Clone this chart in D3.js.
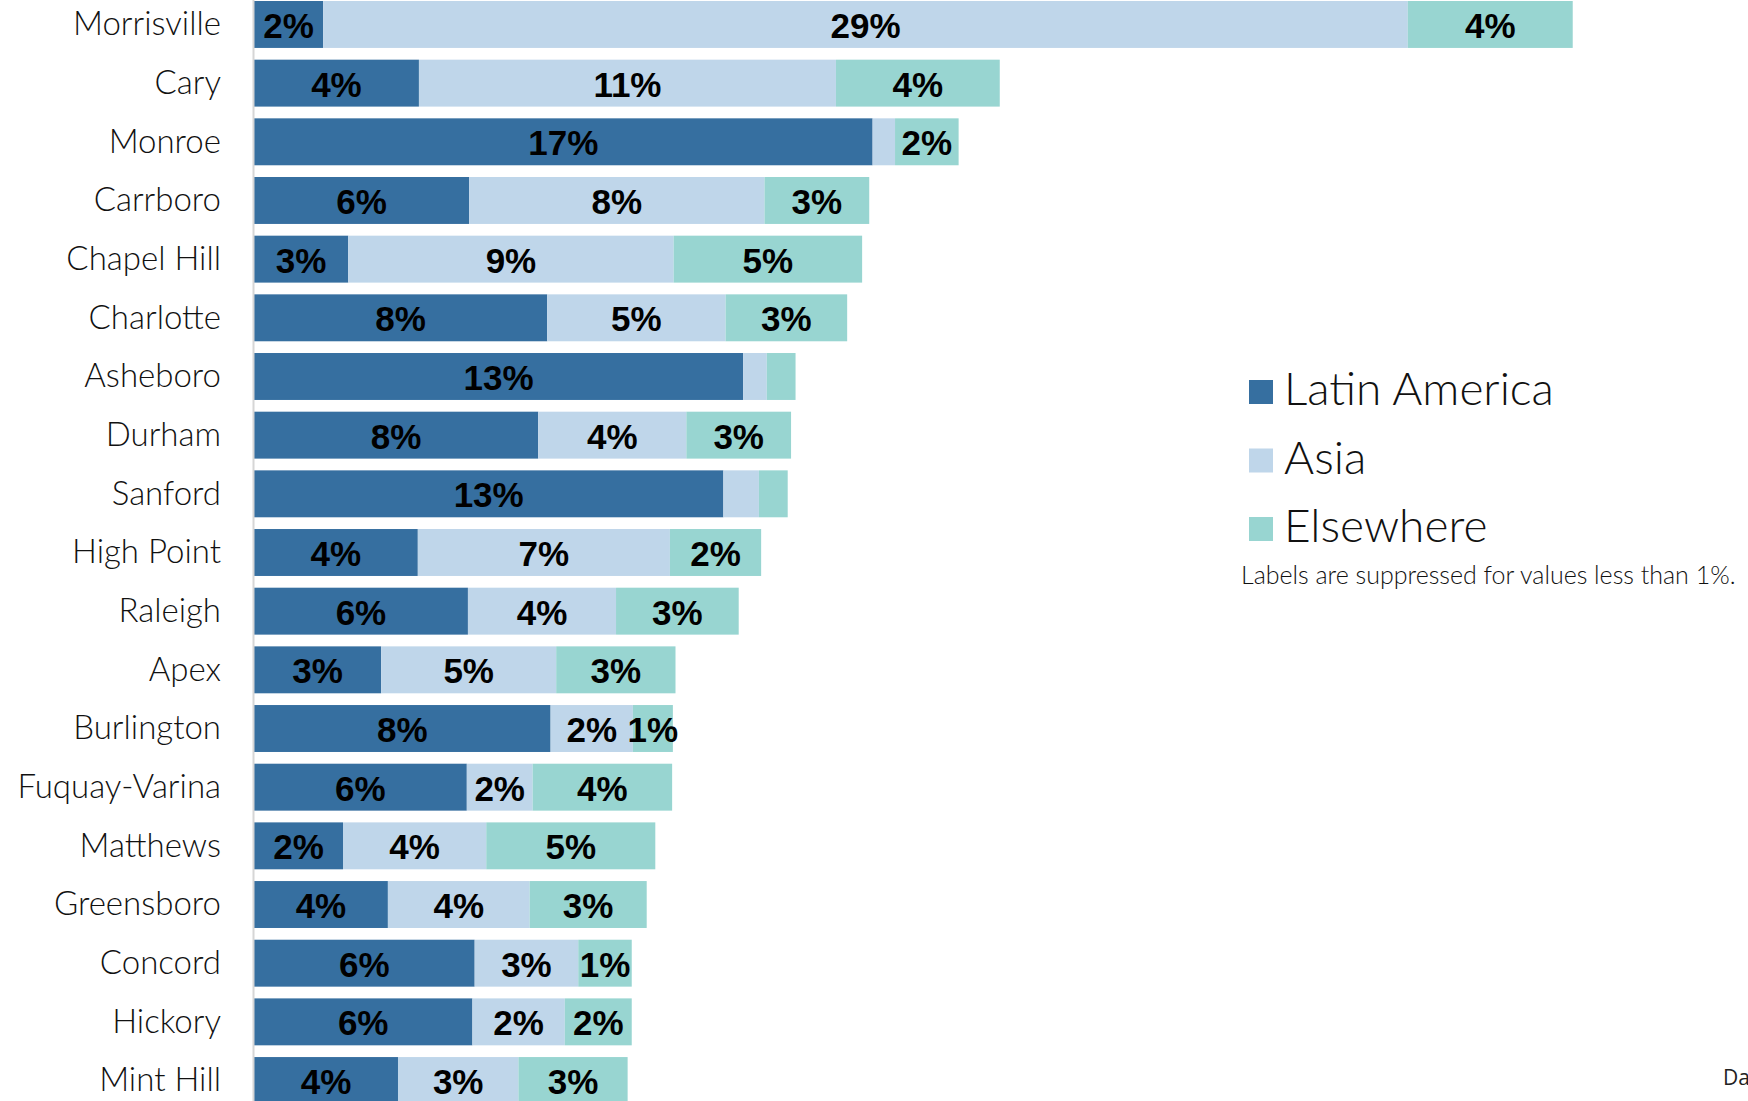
<!DOCTYPE html>
<html>
<head>
<meta charset="utf-8">
<script src="https://cdn.jsdelivr.net/npm/d3@7"></script>
<style>
  body { margin: 0; background: #fff; overflow: hidden; }
  svg { display: block; }
</style>
</head>
<body>
<div id="chart-area"></div>
<script>
// share of residents born abroad, by region (percent)
const cities = ["Morrisville", "Cary", "Monroe", "Carrboro", "Chapel Hill", "Charlotte",
    "Asheboro", "Durham", "Sanford", "High Point", "Raleigh", "Apex", "Burlington",
    "Fuquay-Varina", "Matthews", "Greensboro", "Concord", "Hickory", "Mint Hill"];
const latinAmerica = [1.85, 4.41, 16.54, 5.75, 2.52, 7.84, 13.08, 7.6, 12.55, 4.38,
    5.72, 3.4, 7.93, 5.69, 2.38, 3.58, 5.9, 5.84, 3.85];
const asia = [29.0, 11.15, 0.6, 7.9, 8.7, 4.77, 0.63, 3.96, 0.95, 6.74,
    3.96, 4.68, 2.2, 1.76, 3.83, 3.79, 2.77, 2.47, 3.22];
const elsewhere = [4.41, 4.38, 1.7, 2.8, 5.04, 3.25, 0.77, 2.8, 0.77, 2.44,
    3.28, 3.19, 1.07, 3.73, 4.52, 3.13, 1.43, 1.79, 2.92];
const seriesNames = ["Latin America", "Asia", "Elsewhere"];
const seriesColors = ["#366fa0", "#bfd6ea", "#98d5d1"];

const width = 1748;
const height = 1101;

const data = cities.map((c, i) => ({
    city: c,
    "Latin America": latinAmerica[i],
    "Asia": asia[i],
    "Elsewhere": elsewhere[i]
}));

const svg = d3.select("#chart-area")
    .append("svg")
    .attr("width", width)
    .attr("height", height);

const step = 58.67;
const y = d3.scaleBand()
    .domain(cities)
    .range([-4.87, -4.87 + cities.length * step])
    .paddingInner(0.2)
    .paddingOuter(0.1);

const x = d3.scaleLinear()
    .domain([0, 40])
    .range([254, 254 + 40 * 37.4]);

const color = d3.scaleOrdinal()
    .domain(seriesNames)
    .range(seriesColors);

const stacked = d3.stack().keys(seriesNames)(data);

const layers = svg.selectAll("g.layer")
    .data(stacked)
    .enter()
    .append("g")
        .attr("class", "layer")
        .attr("fill", d => color(d.key));

layers.selectAll("rect")
    .data(d => d)
    .enter()
    .append("rect")
        .attr("x", d => x(d[0]))
        .attr("y", d => y(d.data.city))
        .attr("width", d => x(d[1]) - x(d[0]))
        .attr("height", y.bandwidth());

// value labels, hidden under 1%
layers.selectAll("text")
    .data(d => d.map(s => ({s: s, v: s[1] - s[0]})))
    .enter()
    .filter(d => d.v >= 1)
    .append("text")
        .attr("x", d => (x(d.s[0]) + x(d.s[1])) / 2)
        .attr("y", d => y(d.s.data.city) + y.bandwidth() / 2 + 1)
        .attr("dominant-baseline", "central")
        .attr("text-anchor", "middle")
        .attr("font-family", "'Liberation Sans', Arial, sans-serif")
        .attr("font-weight", "bold")
        .attr("font-size", "35px")
        .attr("fill", "#000")
        .text(d => Math.round(d.v) + "%");

// city axis
const leftAxis = d3.axisLeft(y)
    .tickSize(0)
    .tickPadding(32);

const axisG = svg.append("g")
    .attr("class", "left axis")
    .attr("transform", "translate(253, 0)")
    .call(leftAxis);

axisG.select(".domain")
    .attr("stroke", "#d6d6d6")
    .attr("stroke-width", 2);

axisG.selectAll("text")
    .attr("font-family", "Lato, 'Open Sans', sans-serif")
    .attr("font-weight", 300)
    .attr("font-size", "33px")
    .attr("fill", "#111")
    .attr("dy", "0.33em");

// legend
const legend = svg.append("g")
    .attr("transform", "translate(1249, 380)");

const items = legend.selectAll("g")
    .data(seriesNames)
    .enter()
    .append("g")
        .attr("transform", (d, i) => "translate(0," + (i * 68.5) + ")");

items.append("rect")
    .attr("width", 24)
    .attr("height", 24)
    .attr("fill", d => color(d));

items.append("text")
    .attr("x", 35)
    .attr("y", 25)
    .attr("font-family", "Lato, 'Open Sans', sans-serif")
    .attr("font-weight", 300)
    .attr("font-size", "46px")
    .attr("fill", "#111")
    .text(d => d);

svg.append("text")
    .attr("x", 1241)
    .attr("y", 584)
    .attr("font-family", "Lato, 'Open Sans', sans-serif")
    .attr("font-weight", 300)
    .attr("font-size", "25px")
    .attr("fill", "#111")
    .text("Labels are suppressed for values less than 1%.");

svg.append("text")
    .attr("x", 1723)
    .attr("y", 1085)
    .attr("font-family", "'Open Sans', sans-serif")
    .attr("font-size", "21px")
    .attr("fill", "#222")
    .text("Data: American Community Survey");
</script>
</body>
</html>
